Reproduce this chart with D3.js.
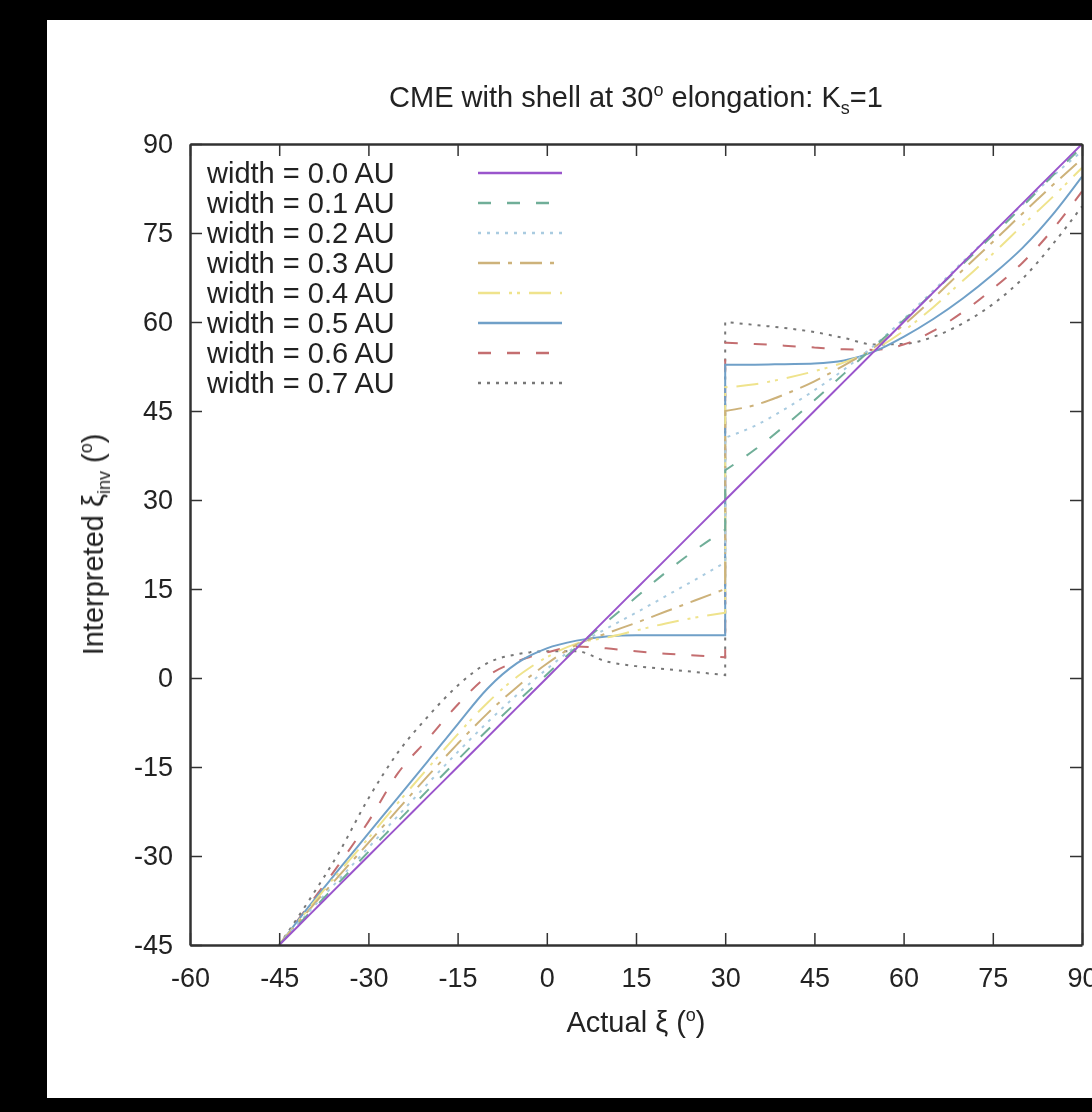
<!DOCTYPE html>
<html>
<head>
<meta charset="utf-8">
<script src="https://cdn.jsdelivr.net/npm/d3@7"></script>
<style>
  body { margin: 0; background: #000; }
  text { font-family: "Liberation Sans", Arial, sans-serif; fill: #222; }
</style>
</head>
<body>
<div id="chart"></div>
<script>
// x grid for the two branches (left of the shell at 30 deg, right of it)
var xLeft  = [-45, -40, -35, -30, -25, -20, -15, -10, -5, 0, 5, 10, 15, 20, 25, 30];
var xRight = [30, 35, 40, 45, 50, 55, 60, 65, 70, 75, 80, 85, 90];

// interpreted elongation, one pair per width
var w00L = [-45, -40, -35, -30, -25, -20, -15, -10, -5, 0, 5, 10, 15, 20, 25, 30];
var w00R = [30, 35, 40, 45, 50, 55, 60, 65, 70, 75, 80, 85, 90];
var w01L = [-45, -39.7, -34.5, -29.3, -24.1, -18.9, -13.8, -8.8, -4.0, 0.6, 5.2, 9.4, 13.6, 17.8, 21.6, 25.0];
var w01R = [35, 38.5, 42.5, 46.8, 51.3, 55.8, 60.3, 65, 69.8, 74.6, 79.5, 84.6, 89.5];
var w02L = [-45, -39.4, -34.0, -28.6, -23.2, -17.8, -12.5, -7.5, -2.8, 1.5, 5.4, 8.3, 11.0, 13.8, 16.6, 19.5];
var w02R = [40.5, 42.5, 45.3, 48.5, 52, 56, 60.5, 65.3, 70.2, 75, 79.8, 84.5, 88.8];
var w03L = [-45, -39.1, -33.4, -27.8, -22.1, -16.5, -11.1, -6.0, -1.5, 2.4, 5.6, 7.5, 9.3, 11.2, 13.1, 15.0];
var w03R = [45, 46, 47.8, 50, 52.7, 55.7, 59.5, 64, 68.8, 73.5, 78.3, 83, 87.5];
var w04L = [-45, -38.8, -32.8, -27.0, -21.0, -15.2, -9.5, -4.2, 0.2, 3.5, 5.8, 6.8, 8.0, 9.2, 10.2, 11.0];
var w04R = [49, 49.5, 50.5, 51.7, 53.2, 55.3, 58.5, 62.5, 67, 71.5, 76.3, 81, 86];
var w05L = [-45, -38.5, -32.3, -26.2, -20.1, -14.0, -7.8, -1.8, 2.5, 5.0, 6.3, 7.0, 7.2, 7.2, 7.2, 7.2];
var w05R = [52.8, 52.8, 52.9, 53, 53.5, 55, 57.5, 60.5, 64, 68, 72.5, 78, 84.5];
var w06L = [-45, -38.3, -31.5, -24.2, -16.0, -10.3, -4.5, 0.3, 2.8, 4.3, 5.3, 5.0, 4.5, 4.1, 3.8, 3.5];
var w06R = [56.5, 56.3, 56, 55.7, 55.4, 55.3, 56.2, 58.5, 61.7, 65.6, 70, 75.5, 82];
var w07L = [-45, -37.5, -29.5, -20.3, -12.5, -6.5, -1.3, 2.5, 4.0, 4.5, 4.5, 2.8, 2.0, 1.5, 1.0, 0.5];
var w07R = [60, 59.5, 59, 58.3, 57.3, 56.2, 56.3, 57.5, 59.8, 63, 67.3, 73, 79.5];

var labels = ["width = 0.0 AU", "width = 0.1 AU", "width = 0.2 AU", "width = 0.3 AU",
              "width = 0.4 AU", "width = 0.5 AU", "width = 0.6 AU", "width = 0.7 AU"];
var xTicks = [-60, -45, -30, -15, 0, 15, 30, 45, 60, 75, 90];
var yTicks = [-45, -30, -15, 0, 15, 30, 45, 60, 75, 90];

var series = [
    { label: labels[0], left: w00L, right: w00R, color: "#9a55cc", dash: null },
    { label: labels[1], left: w01L, right: w01R, color: "#6fae98", dash: "13,16" },
    { label: labels[2], left: w02L, right: w02R, color: "#a9cbe0", dash: "3,6" },
    { label: labels[3], left: w03L, right: w03R, color: "#cdb27a", dash: "22,8,4,8" },
    { label: labels[4], left: w04L, right: w04R, color: "#efe38c", dash: "22,9,3,5,3,9" },
    { label: labels[5], left: w05L, right: w05R, color: "#6fa0c8", dash: null },
    { label: labels[6], left: w06L, right: w06R, color: "#c46e70", dash: "13,16" },
    { label: labels[7], left: w07L, right: w07R, color: "#777777", dash: "3,6" }
];

var W = 1092, H = 1112;
var plot = { left: 190, right: 1082, top: 144, bottom: 945 };
var fs = 29; // font size used by the original plot

var svg = d3.select("#chart").append("svg")
    .attr("width", W)
    .attr("height", H);

// slight blur to match the soft, upscaled look of the original
var defs = svg.append("defs");
defs.append("filter").attr("id", "soft")
    .append("feGaussianBlur").attr("stdDeviation", 0.7);

svg.append("rect").attr("width", W).attr("height", H).attr("fill", "#000");
svg.append("rect")
    .attr("x", 47).attr("y", 20)
    .attr("width", W - 47).attr("height", 1078)
    .attr("fill", "#fff");

var g = svg.append("g").attr("filter", "url(#soft)");

var xScale = d3.scaleLinear().domain([-60, 90]).range([plot.left, plot.right]);
var yScale = d3.scaleLinear().domain([-45, 90]).range([plot.bottom, plot.top]);

var line = d3.line()
    .x(function(d) { return xScale(d[0]); })
    .y(function(d) { return yScale(d[1]); })
    .curve(d3.curveMonotoneX);

var clip = defs.append("clipPath").attr("id", "plotclip");
clip.append("rect")
    .attr("x", plot.left).attr("y", plot.top)
    .attr("width", plot.right - plot.left).attr("height", plot.bottom - plot.top);

// curves: left branch, jump at 30, right branch, drawn as one path so dashes run on
var curves = g.append("g").attr("clip-path", "url(#plotclip)");
series.slice().reverse().forEach(function(s) {
    var left = xLeft.map(function(x, i) { return [x, s.left[i]]; });
    var right = xRight.map(function(x, i) { return [x, s.right[i]]; });
    var d = line(left) + "L" + line(right).slice(1);
    curves.append("path")
        .attr("d", d)
        .attr("fill", "none")
        .attr("stroke", s.color)
        .attr("stroke-width", 2)
        .attr("stroke-dasharray", s.dash);
});

// frame with mirrored inward ticks
var tickLen = 12;
var axisColor = "#333";
var plain = function(d) { return String(d); }; // keep the ASCII hyphen for negatives

g.append("g").attr("transform", "translate(0," + plot.bottom + ")")
    .call(d3.axisBottom(xScale).tickValues(xTicks).tickFormat(plain)
        .tickSizeInner(-tickLen).tickSizeOuter(0).tickPadding(23));
g.append("g").attr("transform", "translate(0," + plot.top + ")")
    .call(d3.axisTop(xScale).tickValues(xTicks).tickSizeInner(-tickLen).tickSizeOuter(0).tickFormat(""));
g.append("g").attr("transform", "translate(" + plot.left + ",0)")
    .call(d3.axisLeft(yScale).tickValues(yTicks).tickFormat(plain)
        .tickSizeInner(-tickLen).tickSizeOuter(0).tickPadding(17));
g.append("g").attr("transform", "translate(" + plot.right + ",0)")
    .call(d3.axisRight(yScale).tickValues(yTicks).tickSizeInner(-tickLen).tickSizeOuter(0).tickFormat(""));

g.selectAll(".domain").attr("stroke", axisColor).attr("stroke-width", 2.5);
g.selectAll(".tick line").attr("stroke", axisColor).attr("stroke-width", 1.5);
g.selectAll(".tick text")
    .attr("font-size", fs - 2)
    .attr("fill", "#222")
    .style("font-family", "'Liberation Sans', Arial, sans-serif");

// legend
var key = g.append("g");
series.forEach(function(s, i) {
    var y = 173 + i * 30;
    key.append("text")
        .attr("x", 207).attr("y", y)
        .attr("dy", "0.35em")
        .attr("font-size", fs)
        .text(s.label);
    key.append("line")
        .attr("x1", 478).attr("x2", 562)
        .attr("y1", y).attr("y2", y)
        .attr("stroke", s.color)
        .attr("stroke-width", 2.5)
        .attr("stroke-dasharray", s.dash);
});

// title
var title = g.append("text")
    .attr("x", (plot.left + plot.right) / 2)
    .attr("y", 107)
    .attr("text-anchor", "middle")
    .attr("font-size", fs);
title.append("tspan").text("CME with shell at 30");
title.append("tspan").attr("dy", -11).attr("font-size", 18).text("o");
title.append("tspan").attr("dy", 11).text(" elongation: K");
title.append("tspan").attr("dy", 7).attr("font-size", 18).text("s");
title.append("tspan").attr("dy", -7).text("=1");

// x axis label
var xl = g.append("text")
    .attr("x", (plot.left + plot.right) / 2)
    .attr("y", 1032)
    .attr("text-anchor", "middle")
    .attr("font-size", fs);
xl.append("tspan").text("Actual \u03be (");
xl.append("tspan").attr("dy", -11).attr("font-size", 18).text("o");
xl.append("tspan").attr("dy", 11).text(")");

// y axis label
var yl = g.append("text")
    .attr("transform", "translate(103," + (plot.top + plot.bottom) / 2 + ") rotate(-90)")
    .attr("text-anchor", "middle")
    .attr("font-size", fs);
yl.append("tspan").text("Interpreted \u03be");
yl.append("tspan").attr("dy", 7).attr("font-size", 18).text("inv");
yl.append("tspan").attr("dy", -7).text(" (");
yl.append("tspan").attr("dy", -11).attr("font-size", 18).text("o");
yl.append("tspan").attr("dy", 11).text(")");
</script>
</body>
</html>
